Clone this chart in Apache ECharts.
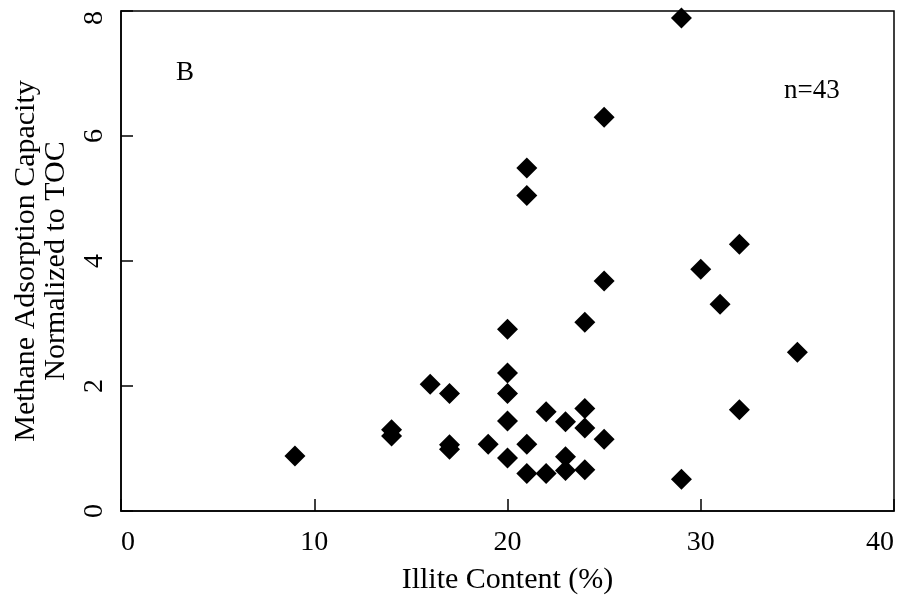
<!DOCTYPE html>
<html>
<head>
<meta charset="utf-8">
<script src="https://cdn.jsdelivr.net/npm/echarts@6/dist/echarts.min.js"></script>
<style>
  html, body { margin: 0; padding: 0; background: #fff; }
  #chart { width: 901px; height: 605px; }
</style>
</head>
<body>
<div id="chart"></div>
<script>
// Illite content (%) of each sample
const illite = [9, 14, 14, 16, 17, 17, 17, 19, 20, 20, 20, 20, 20, 21, 21, 21, 21, 22, 22,
  23, 23, 23, 24, 24, 24, 24, 25, 25, 25, 29, 29, 30, 31, 32, 32, 35];
// Methane adsorption capacity normalized to TOC
const capacity = [0.88, 1.30, 1.20, 2.03, 1.88, 1.06, 0.99, 1.07, 2.91, 2.21, 1.88, 1.44, 0.85,
  5.49, 5.05, 1.07, 0.60, 1.59, 0.60, 1.43, 0.87, 0.65, 3.02, 1.64, 1.33, 0.66, 6.30, 3.68,
  1.15, 7.89, 0.51, 3.87, 3.31, 4.27, 1.62, 2.54];
const xTicks = [0, 10, 20, 30, 40];
const yTicks = [0, 2, 4, 6, 8];
const panelLabel = 'B';
const countLabel = 'n=43';

const font = 'Liberation Serif, Times New Roman, serif';
const points = illite.map((x, i) => [x, capacity[i]]);

const chart = echarts.init(document.getElementById('chart'));
chart.setOption({
  backgroundColor: '#fff',
  animation: false,
  grid: { left: 121, right: 7, top: 11, bottom: 94, show: true, borderColor: '#000', borderWidth: 1.5 },
  xAxis: {
    type: 'value',
    min: xTicks[0], max: xTicks[xTicks.length - 1], interval: 10,
    name: 'Illite Content (%)', nameLocation: 'middle', nameGap: 54,
    nameTextStyle: { fontFamily: font, fontSize: 30, color: '#000' },
    axisLine: { lineStyle: { color: '#000', width: 1.5 } },
    axisTick: { inside: true, length: 12, lineStyle: { color: '#000', width: 1.5 } },
    axisLabel: { fontFamily: font, fontSize: 28, color: '#000', margin: 18,
      alignMinLabel: 'left', alignMaxLabel: 'right' },
    splitLine: { show: false }
  },
  yAxis: {
    type: 'value',
    min: yTicks[0], max: yTicks[yTicks.length - 1], interval: 2,
    name: 'Methane Adsorption Capacity\nNormalized to TOC', nameLocation: 'middle', nameGap: 50,
    nameRotate: 90,
    nameTextStyle: { fontFamily: font, fontSize: 30, color: '#000', lineHeight: 30 },
    axisLine: { lineStyle: { color: '#000', width: 1.5 } },
    axisTick: { inside: true, length: 12, lineStyle: { color: '#000', width: 1.5 } },
    axisLabel: { fontFamily: font, fontSize: 28, color: '#000', margin: 12, rotate: 90,
      alignMaxLabel: 'right' },
    splitLine: { show: false }
  },
  graphic: [
    { type: 'text', left: 176, top: 59, style: { text: panelLabel, font: '27px ' + font, fill: '#000' } },
    { type: 'text', left: 784, top: 77, style: { text: countLabel, font: '27px ' + font, fill: '#000' } }
  ],
  series: [{
    type: 'scatter',
    data: points,
    symbol: 'diamond',
    symbolSize: [21, 21],
    itemStyle: { color: '#000', opacity: 1 }
  }]
});
</script>
</body>
</html>
